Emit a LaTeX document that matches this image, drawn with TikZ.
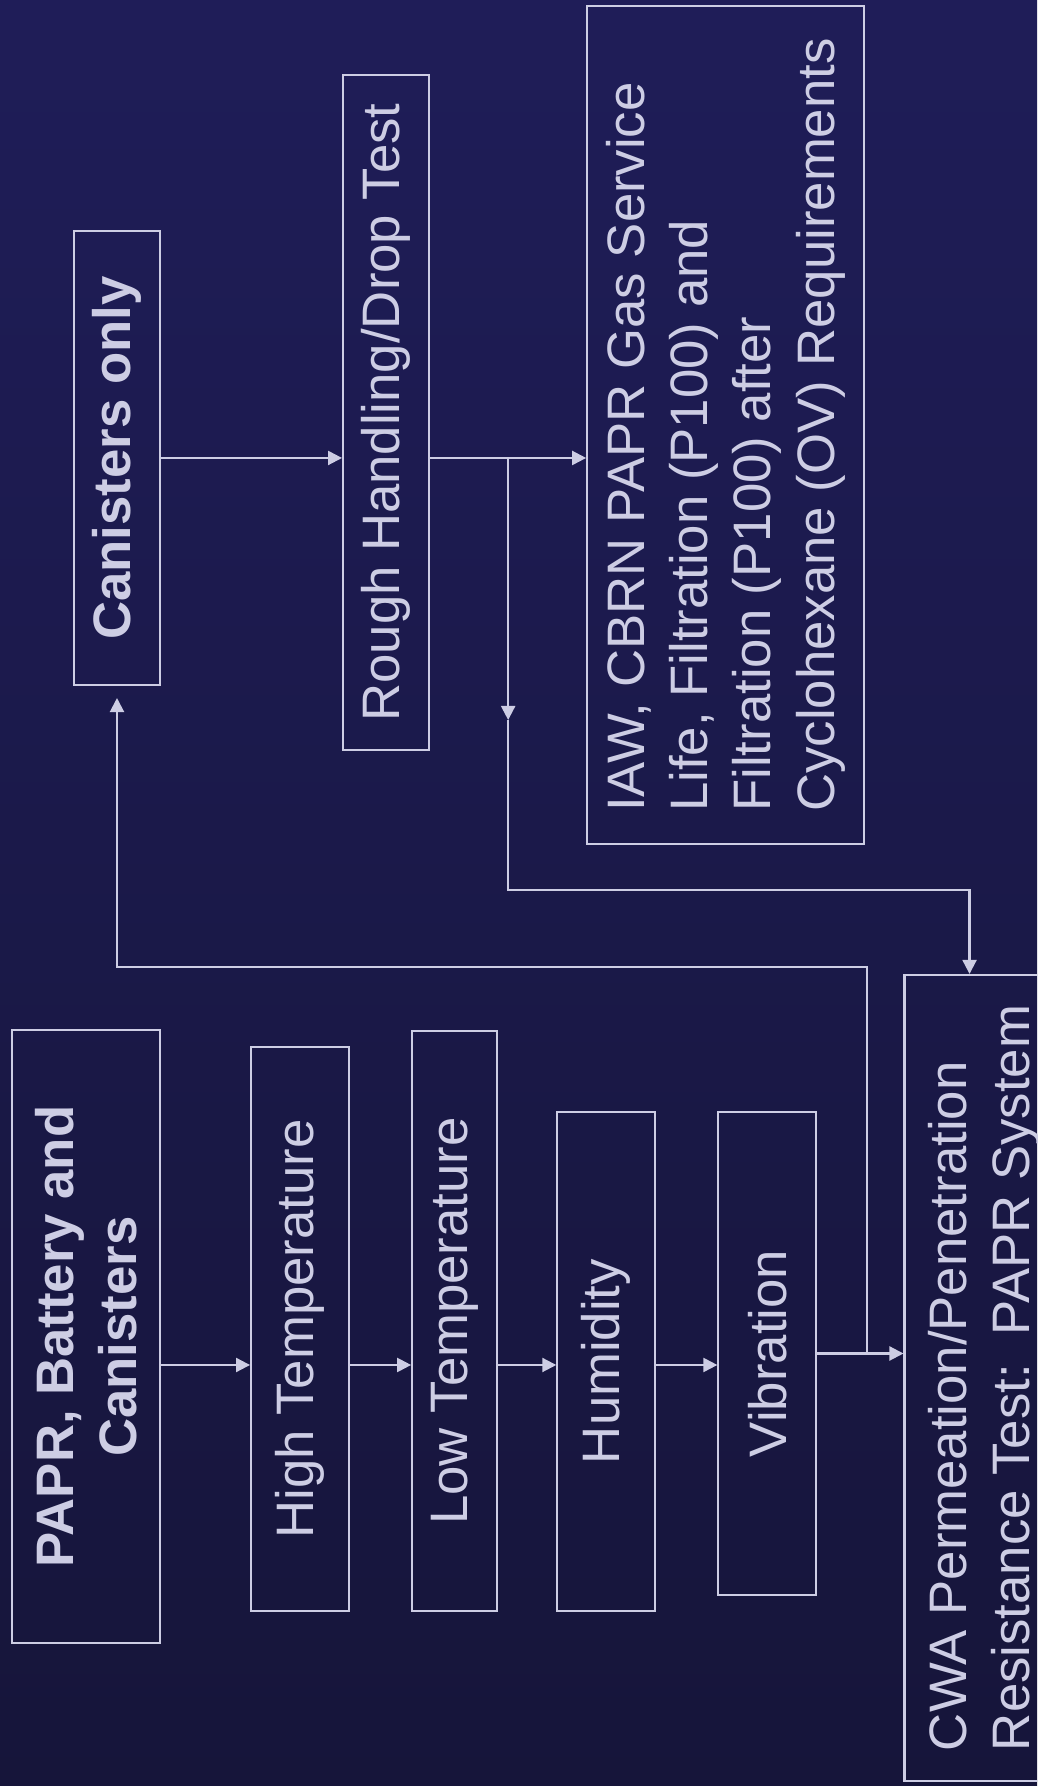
\documentclass[tikz,border=0pt]{standalone}
\usepackage{fontspec}
\setmainfont{Liberation Sans}
\usepackage{tikz}
\usetikzlibrary{arrows.meta, positioning, calc}
\definecolor{bgtop}{RGB}{31,29,88}
\definecolor{bgmid}{RGB}{29,27,80}
\definecolor{bgbot}{RGB}{22,21,58}
\definecolor{ink}{RGB}{205,205,228}

\begin{document}
\begin{tikzpicture}[
    x=0.1mm, y=0.1mm,
    rotate=90, transform shape,
    node distance=6mm,
    box/.style={draw=ink, line width=0.6pt, text=ink, inner sep=2pt, align=center, font=\fontsize{15pt}{18pt}\selectfont},
    head/.style={box, font=\fontsize{15pt}{18pt}\selectfont\bfseries},
    arr/.style={-{Triangle[length=1.4mm, width=1.4mm]}, draw=ink, line width=0.6pt}
]
\clip (0,0) rectangle (1786,-1037);
\fill[top color=bgtop, middle color=bgmid, bottom color=bgbot] (0,0) rectangle (1786,-1037);

\node[head, minimum width=61.3mm, minimum height=14.8mm] (papr) at (449.5,-86) {PAPR, Battery and\\ Canisters};
\node[box, below=8.9mm of papr, xshift=0.75mm, minimum width=56.4mm, minimum height=9.8mm] (high) {High Temperature};
\node[box, below=6.1mm of high, xshift=0.8mm, minimum width=58mm, minimum height=8.5mm] (low) {Low Temperature};
\node[box, below=5.8mm of low, xshift=-4.05mm, minimum width=49.9mm, minimum height=9.8mm] (hum) {Humidity};
\node[box, below=6.1mm of hum, xshift=0.8mm, minimum width=48.3mm, minimum height=9.8mm] (vib) {Vibration};
\node[box, below=8.6mm of vib, xshift=-2.45mm, minimum width=80.6mm, minimum height=16mm, align=left] (cwa) {CWA Permeation/Penetration\\ Resistance Test:\ \ PAPR System};

\node[head, minimum width=45.4mm, minimum height=8.6mm] (can) at (1328,-117) {Canisters only};
\node[box, below=18.1mm of can, xshift=4.55mm, minimum width=67.5mm, minimum height=8.6mm] (rough) {Rough Handling/Drop Test};
\node[box, below=15.6mm of rough, xshift=-1.25mm, minimum width=83.8mm, minimum height=27.7mm, align=left] (iaw) {IAW, CBRN PAPR Gas Service\\ Life, Filtration (P100) and\\ Filtration (P100) after\\ Cyclohexane (OV) Requirements};

% conditioning chain
\coordinate (spine) at (421,0);
\draw[arr] (papr.south -| spine) -- (high.north -| spine);
\draw[arr] (high.south -| spine) -- (low.north -| spine);
\draw[arr] (low.south -| spine)  -- (hum.north -| spine);
\draw[arr] (hum.south -| spine)  -- (vib.north -| spine);
\draw[arr] (vib.south) -- (vib.south |- cwa.north);

% canister branch
\coordinate (fork) at ($(vib.south)!0.58!(vib.south |- cwa.north)$);
\draw[arr, shorten >=1.2mm] (fork) -| ([xshift=-28.1mm]can.west) -- (can.west);
\draw[arr] (can.south) -- (can.south |- rough.north);
\draw[arr] (rough.south -| can) -- (iaw.north -| can);

% back to the system test
\coordinate (tap) at ($(rough.south -| can)!0.5!(iaw.north -| can)$);
\draw[arr] (tap) -- ++(-26.2mm,0) coordinate (dip);
\draw[arr] (dip) -| ([xshift=8.4mm, yshift=1.5mm]cwa.east) -- ([yshift=1.5mm]cwa.east);
\end{tikzpicture}
\end{document}
